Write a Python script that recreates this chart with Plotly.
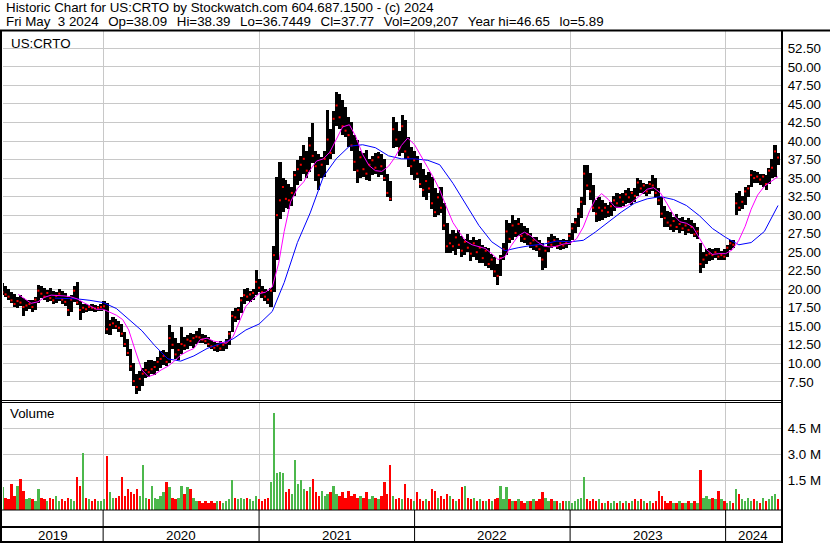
import plotly.graph_objects as go
import pandas as pd

# weekly bars, week ending Friday (May 10 2019 .. May 3 2024)
week_end = pd.date_range("2019-05-10", periods=261, freq="7D")

week_high = [
    20.8, 20.4, 20.0, 19.6, 19.4, 19.0, 19.2, 18.8, 18.5, 18.6,
    18.5, 18.9, 20.6, 20.5, 20.2, 19.9, 20.1, 19.8, 19.6, 20.0,
    19.8, 19.5, 19.0, 19.2, 20.4, 21.0, 18.4, 18.0, 18.0, 17.9,
    18.0, 17.9, 17.8, 18.0, 18.4, 18.1, 15.9, 16.2, 16.0, 15.7,
    15.3, 14.2, 13.3, 11.9, 10.0, 8.6, 8.9, 9.4, 10.2, 10.4,
    10.5, 10.3, 10.9, 11.6, 11.8, 11.5, 15.2, 14.2, 13.4, 12.8,
    14.9, 13.6, 13.8, 14.1, 13.9, 14.3, 14.8, 14.0, 13.8, 13.6,
    13.2, 12.9, 12.8, 13.0, 12.8, 13.3, 14.3, 17.0, 17.4, 17.6,
    19.0, 20.0, 20.2, 19.8, 20.0, 22.6, 21.4, 20.4, 20.0, 19.8,
    20.2, 25.8, 35.2, 37.2, 35.0, 34.8, 34.2, 33.8, 36.0, 37.4,
    38.0, 39.5, 38.6, 40.6, 42.4, 38.6, 38.2, 37.8, 38.6, 44.2,
    41.6, 44.0, 46.65, 46.4, 45.6, 44.6, 43.2, 42.6, 40.8, 40.1,
    38.6, 38.4, 38.8, 37.6, 38.0, 38.4, 38.5, 38.2, 37.6, 35.6,
    34.6, 43.2, 42.6, 41.4, 43.5, 42.8, 40.6, 39.2, 38.6, 38.0,
    37.0, 36.2, 35.4, 35.8, 35.1, 33.6, 33.0, 33.8, 31.6, 28.9,
    27.4, 28.0, 27.6, 28.0, 27.2, 26.8, 27.4, 26.6, 27.1, 26.6,
    26.8, 26.0, 25.7, 25.6, 24.8, 24.4, 23.4, 24.6, 26.3, 29.3,
    29.0, 30.0, 29.4, 29.6, 28.9, 28.6, 28.2, 27.6, 27.1, 27.0,
    26.6, 26.2, 25.8, 27.0, 27.5, 27.2, 26.9, 26.6, 26.8, 26.6,
    27.6, 28.9, 29.6, 31.0, 32.5, 36.8, 36.7, 35.7, 34.0, 32.0,
    32.4, 32.0, 31.6, 31.4, 31.8, 32.6, 33.0, 32.8, 33.0, 33.4,
    33.7, 33.2, 33.6, 35.0, 34.8, 34.4, 34.2, 34.6, 35.4, 35.0,
    33.6, 32.4, 31.2, 30.6, 30.4, 29.8, 30.2, 29.6, 29.8, 29.4,
    29.6, 29.3, 29.0, 28.4, 26.3, 25.0, 25.4, 25.6, 25.4, 25.6,
    25.5, 25.2, 25.4, 26.0, 26.6, 26.6, 33.0, 33.2, 32.6, 33.8,
    34.0, 36.1, 36.0, 35.8, 35.6, 35.6, 35.4, 36.4, 37.6, 39.4,
    38.39,
]

week_low = [
    19.2, 18.9, 18.6, 18.2, 17.6, 17.5, 17.8, 16.4, 17.0, 17.3,
    16.9, 17.2, 18.2, 18.8, 18.5, 18.3, 18.4, 18.0, 18.1, 18.4,
    18.0, 17.8, 16.4, 16.9, 18.3, 17.9, 15.9, 16.8, 16.9, 17.0,
    17.1, 16.9, 17.0, 17.1, 17.2, 14.0, 13.8, 14.6, 14.7, 14.2,
    13.6, 12.2, 11.0, 9.0, 7.0, 5.89, 6.2, 7.0, 8.0, 8.2,
    8.6, 8.4, 8.9, 9.4, 9.8, 9.6, 10.0, 12.0, 10.6, 10.4,
    11.2, 11.8, 12.0, 12.4, 12.1, 12.6, 12.8, 12.7, 12.6, 12.2,
    11.9, 11.6, 11.5, 11.7, 11.6, 12.0, 12.5, 14.2, 15.6, 15.8,
    16.8, 18.0, 18.4, 18.3, 18.6, 19.2, 19.6, 18.8, 18.4, 18.0,
    17.6, 19.6, 24.0, 29.5, 30.4, 31.0, 30.8, 31.2, 32.6, 34.0,
    34.6, 35.6, 35.0, 35.8, 37.0, 34.6, 33.4, 35.0, 35.2, 36.8,
    37.6, 38.2, 42.0, 41.6, 40.8, 40.6, 39.2, 38.6, 36.0, 34.3,
    35.0, 35.2, 34.7, 34.6, 35.4, 35.6, 35.2, 35.4, 34.6, 32.4,
    31.9, 39.0, 39.2, 38.0, 38.4, 37.6, 36.5, 35.4, 34.8, 35.0,
    33.6, 32.4, 32.0, 33.0, 30.8, 29.7, 30.0, 30.3, 28.0, 24.9,
    24.9, 25.2, 24.6, 25.4, 24.4, 24.6, 25.0, 23.8, 24.4, 24.0,
    23.5, 23.6, 23.2, 22.8, 22.6, 21.6, 20.6, 21.8, 24.0, 24.6,
    26.2, 26.7, 27.0, 27.2, 26.4, 26.2, 26.0, 25.6, 25.3, 25.2,
    24.4, 22.6, 22.8, 25.0, 25.6, 25.7, 25.4, 25.3, 25.4, 25.5,
    26.0, 26.6, 27.6, 28.4, 29.6, 31.4, 33.4, 32.0, 30.4, 29.1,
    29.2, 29.4, 29.6, 29.7, 29.9, 30.6, 31.0, 31.1, 31.2, 31.5,
    31.6, 31.4, 31.8, 32.6, 33.0, 32.8, 32.6, 32.8, 33.2, 32.5,
    31.4, 29.6, 28.4, 28.4, 28.0, 27.7, 28.0, 27.6, 27.8, 27.3,
    27.6, 27.4, 27.0, 26.8, 22.2, 22.8, 23.4, 23.8, 24.0, 24.2,
    24.0, 23.9, 24.0, 24.4, 25.3, 25.6, 30.0, 30.6, 30.8, 31.4,
    32.4, 33.8, 34.4, 34.3, 34.0, 33.8, 33.4, 34.2, 35.0, 35.2,
    36.74,
]

week_close = [
    19.6, 19.3, 19.0, 18.5, 18.0, 18.4, 18.2, 17.6, 17.8, 18.0,
    17.6, 18.6, 19.8, 19.4, 19.0, 19.5, 18.8, 18.5, 19.1, 19.4,
    18.6, 18.3, 17.2, 18.6, 19.8, 18.2, 17.2, 17.5, 17.3, 17.6,
    17.5, 17.4, 17.5, 17.6, 17.7, 14.6, 15.2, 15.4, 15.0, 14.8,
    14.0, 12.6, 11.4, 9.6, 7.6, 6.8, 7.9, 8.6, 9.1, 8.8,
    9.2, 9.5, 10.2, 10.6, 11.0, 10.2, 13.4, 12.5, 11.2, 11.8,
    12.6, 12.4, 13.2, 13.0, 13.4, 13.6, 13.5, 13.2, 13.0, 12.6,
    12.3, 12.1, 12.4, 12.0, 12.5, 12.9, 14.0, 16.4, 16.2, 17.2,
    18.5, 19.2, 19.0, 19.3, 19.5, 21.0, 20.2, 19.6, 19.0, 18.6,
    19.8, 24.6, 30.0, 32.0, 33.8, 32.2, 32.0, 33.0, 35.4, 36.2,
    36.8, 37.6, 36.0, 39.4, 38.0, 36.6, 35.4, 36.8, 37.6, 40.2,
    38.4, 43.0, 44.8, 43.2, 42.0, 41.4, 40.8, 39.4, 37.2, 36.0,
    37.8, 36.2, 35.6, 36.8, 37.4, 36.4, 37.8, 36.6, 35.0, 33.0,
    32.2, 41.6, 40.2, 39.0, 42.0, 38.6, 37.8, 36.6, 37.4, 35.6,
    34.2, 33.4, 34.6, 33.6, 31.6, 30.4, 32.4, 31.0, 28.6, 25.8,
    26.2, 25.8, 27.0, 26.0, 25.2, 26.4, 25.6, 24.8, 26.2, 25.0,
    25.6, 24.2, 25.2, 23.4, 24.0, 22.4, 21.8, 24.2, 25.4, 27.8,
    26.8, 28.6, 27.6, 28.8, 27.2, 26.8, 27.4, 26.2, 26.6, 25.8,
    25.4, 24.0, 25.2, 26.4, 26.0, 26.6, 25.8, 26.2, 25.9, 26.3,
    27.2, 28.2, 29.0, 30.2, 31.8, 35.6, 34.0, 33.2, 31.0, 30.2,
    31.0, 30.6, 31.0, 30.4, 31.2, 32.0, 31.6, 32.4, 31.8, 32.8,
    32.4, 33.0, 32.6, 34.4, 33.6, 34.0, 33.2, 34.2, 34.0, 33.0,
    32.0, 30.2, 29.6, 29.0, 28.6, 29.2, 28.4, 28.8, 28.2, 28.6,
    28.0, 28.4, 27.4, 27.8, 23.4, 24.0, 24.6, 24.8, 24.6, 25.0,
    24.4, 24.6, 24.4, 25.6, 26.2, 26.0, 31.6, 31.0, 31.8, 33.2,
    33.6, 35.4, 35.0, 35.2, 34.8, 35.2, 34.2, 36.0, 36.4, 38.6,
    37.77,
]

# volume in millions of shares
week_volume = [
    1.1, 0.5, 0.4, 1.3, 0.6, 1.2, 1.6, 0.9, 0.4, 0.5,
    0.4, 0.3, 1.0, 0.5, 0.4, 0.3, 0.5, 0.4, 0.6, 0.3,
    0.4, 0.3, 0.5, 0.4, 0.3, 1.7, 1.2, 3.1, 0.5, 0.4,
    0.3, 0.4, 0.3, 0.3, 0.4, 2.9, 0.8, 0.5, 0.5, 0.6,
    1.7, 0.6, 1.0, 0.8, 0.7, 1.0, 0.6, 2.4, 0.5, 0.4,
    1.2, 0.5, 0.4, 0.6, 0.8, 1.4, 1.1, 0.5, 0.4, 0.5,
    1.2, 0.7, 1.1, 1.0, 0.5, 0.3, 0.3, 0.2, 0.3, 0.2,
    0.3, 0.2, 0.3, 0.3, 0.2, 0.3, 0.4, 1.5, 0.5, 0.4,
    0.5, 0.4, 0.5, 0.4, 0.3, 0.6, 0.4, 0.3, 0.4, 0.5,
    1.4, 5.4, 1.9, 2.0, 1.9, 0.8, 1.0, 0.7, 2.7, 1.3,
    1.5, 1.0, 0.9, 1.1, 1.6, 0.8, 0.6, 0.9, 0.6, 0.7,
    0.8, 1.2, 0.7, 0.6, 0.8, 0.5, 0.9, 0.6, 0.7, 0.5,
    0.6, 0.5, 0.8, 0.4, 0.6, 0.5, 0.4, 0.6, 1.4, 0.7,
    2.4, 0.6, 0.4, 0.5, 0.4, 1.3, 0.5, 0.4, 0.3, 0.8,
    0.4, 0.3, 0.4, 0.3, 1.0, 0.9, 0.5, 0.6, 0.4, 0.7,
    0.6, 0.4, 0.3, 0.4, 1.1, 1.2, 0.5, 0.4, 0.5, 0.3,
    0.4, 0.3, 0.3, 0.4, 0.3, 0.4, 0.5, 1.2, 0.4, 1.1,
    0.4, 0.3, 0.3, 0.4, 0.3, 0.2, 0.3, 0.3, 0.4, 0.3,
    0.4, 0.8, 0.5, 0.3, 0.4, 0.3, 0.3, 0.2, 0.3, 0.3,
    0.3, 0.2, 0.3, 0.4, 0.5, 1.7, 0.4, 0.3, 0.4, 0.3,
    0.4, 0.2, 0.2, 0.3, 0.2, 0.3, 0.2, 0.3, 0.2, 0.3,
    0.2, 0.3, 0.4, 0.3, 0.4, 0.3, 0.2, 0.3, 0.2, 0.3,
    0.9, 0.6, 0.3, 0.2, 0.3, 0.2, 0.2, 0.3, 0.2, 0.2,
    0.3, 0.2, 0.3, 0.2, 2.1, 0.5, 0.6, 0.4, 0.5, 0.4,
    0.9, 0.4, 0.3, 0.2, 0.3, 0.2, 1.0, 0.7, 0.4, 0.3,
    0.5, 0.3, 0.4, 0.3, 0.2, 0.5, 0.3, 0.4, 0.6, 0.7,
    0.4,
]

# magenta (short) moving average
ma_fast_dates = [
    "2019-06-16", "2019-07-01", "2019-07-16", "2019-08-01", "2019-08-16", "2019-09-01",
    "2019-09-16", "2019-10-01", "2019-10-16", "2019-11-01", "2019-11-16", "2019-12-01",
    "2019-12-16", "2020-01-01", "2020-01-16", "2020-02-01", "2020-02-16", "2020-03-01",
    "2020-03-16", "2020-04-01", "2020-04-16", "2020-05-01", "2020-05-16", "2020-06-01",
    "2020-06-16", "2020-07-01", "2020-07-16", "2020-08-01", "2020-08-16", "2020-09-01",
    "2020-09-16", "2020-10-01", "2020-10-16", "2020-11-01", "2020-11-16", "2020-12-01",
    "2020-12-16", "2021-01-01", "2021-01-16", "2021-02-01", "2021-02-16", "2021-03-01",
    "2021-03-16", "2021-04-01", "2021-04-16", "2021-05-01", "2021-05-16", "2021-06-01",
    "2021-06-16", "2021-07-01", "2021-07-16", "2021-08-01", "2021-08-16", "2021-09-01",
    "2021-09-16", "2021-10-01", "2021-10-16", "2021-11-01", "2021-11-16", "2021-12-01",
    "2021-12-16", "2022-01-01", "2022-01-16", "2022-02-01", "2022-02-16", "2022-03-01",
    "2022-03-16", "2022-04-01", "2022-04-16", "2022-05-01", "2022-05-16", "2022-06-01",
    "2022-06-16", "2022-07-01", "2022-07-16", "2022-08-01", "2022-08-16", "2022-09-01",
    "2022-09-16", "2022-10-01", "2022-10-16", "2022-11-01", "2022-11-16", "2022-12-01",
    "2022-12-16", "2023-01-01", "2023-01-16", "2023-02-01", "2023-02-16", "2023-03-01",
    "2023-03-16", "2023-04-01", "2023-04-16", "2023-05-01", "2023-05-16", "2023-06-01",
    "2023-06-16", "2023-07-01", "2023-07-16", "2023-08-01", "2023-08-16", "2023-09-01",
    "2023-09-16", "2023-10-01", "2023-10-16", "2023-11-01", "2023-11-16", "2023-12-01",
    "2023-12-16", "2024-01-01", "2024-01-16", "2024-02-01", "2024-02-16", "2024-03-01",
    "2024-03-16", "2024-04-01", "2024-04-16", "2024-05-03",
]
ma_fast = [
    19.3, 18.7, 18.1, 18.3, 18.9, 19.2,
    19.2, 19.1, 19.0, 18.7, 18.2, 17.7,
    17.3, 17.3, 16.9, 16.5, 15.9, 14.5,
    11.8, 9.1, 8.2, 8.5, 9.1, 9.6,
    10.3, 11.1, 11.6, 12.0, 13.2, 13.4,
    13.0, 12.8, 12.7, 13.6, 15.6, 17.7,
    18.6, 19.4, 19.6, 20.3, 23.5, 27.8,
    31.8, 33.6, 34.5, 36.1, 37.3, 37.6,
    38.5, 40.2, 41.9, 42.2, 40.6, 38.2,
    36.7, 36.0, 35.9, 36.6, 37.8, 39.4,
    40.4, 39.5, 37.9, 36.4, 34.9, 33.4,
    31.2, 29.0, 27.7, 26.5, 26.0, 25.7,
    25.5, 24.8, 24.0, 24.4, 25.9, 27.2,
    27.7, 27.2, 26.4, 25.8, 25.7, 25.8,
    26.1, 26.2, 26.8, 28.4, 30.6, 32.1,
    32.9, 32.1, 31.1, 31.0, 31.3, 32.0,
    32.8, 33.5, 33.7, 33.0, 31.6, 30.0,
    29.1, 28.9, 28.4, 26.8, 25.4, 24.7,
    24.8, 24.8, 25.3, 26.6, 28.5, 30.8,
    32.7, 33.9, 34.5, 35.2,
]

# blue (long) moving average
ma_slow_dates = [
    "2019-09-10", "2019-10-01", "2019-11-01", "2019-12-01", "2020-01-01", "2020-02-01",
    "2020-03-01", "2020-04-01", "2020-05-01", "2020-06-01", "2020-07-01", "2020-08-01",
    "2020-09-01", "2020-10-01", "2020-11-01", "2020-12-01", "2021-01-01", "2021-02-01",
    "2021-03-01", "2021-04-01", "2021-05-01", "2021-06-01", "2021-07-01", "2021-08-01",
    "2021-09-01", "2021-10-01", "2021-11-01", "2021-12-01", "2022-01-01", "2022-02-01",
    "2022-03-01", "2022-04-01", "2022-05-01", "2022-06-01", "2022-07-01", "2022-08-01",
    "2022-09-01", "2022-10-01", "2022-11-01", "2022-12-01", "2023-01-01", "2023-02-01",
    "2023-03-01", "2023-04-01", "2023-05-01", "2023-06-01", "2023-07-01", "2023-08-01",
    "2023-09-01", "2023-10-01", "2023-11-01", "2023-12-01", "2024-01-01", "2024-02-01",
    "2024-03-01", "2024-04-01", "2024-05-03",
]
ma_slow = [
    18.8, 18.8, 18.7, 18.5, 18.2, 17.4,
    16.0, 14.4, 12.4, 10.6, 10.3, 11.0,
    12.0, 12.6, 13.3, 14.5, 15.3, 17.0,
    20.9, 26.3, 30.3, 35.2, 37.6, 39.3,
    39.5, 39.1, 38.0, 37.6, 37.6, 37.4,
    36.8, 34.3, 31.5, 28.6, 26.4, 25.2,
    25.6, 25.9, 26.1, 26.5, 26.4, 26.6,
    27.7, 29.1, 30.4, 31.6, 32.2, 32.5,
    32.1, 31.3, 29.9, 28.2, 27.0, 26.0,
    26.3, 27.8, 31.3,
]

price_ticks = [7.5, 10, 12.5, 15, 17.5, 20, 22.5, 25, 27.5, 30, 32.5, 35,
               37.5, 40, 42.5, 45, 47.5, 50, 52.5]
volume_ticks = [1.5, 3.0, 4.5]
volume_tick_text = ["1.5 M", "3.0 M", "4.5 M"]
year_starts = ["2020-01-01", "2021-01-01", "2022-01-01", "2023-01-01", "2024-01-01"]
year_labels = ["2019", "2020", "2021", "2022", "2023", "2024"]

x_start, x_end = "2019-05-11", "2024-05-10"

header_1 = "Historic Chart for US:CRTO by Stockwatch.com 604.687.1500 - (c) 2024"
header_2_fields = ["Fri May\u00a0 3 2024", "Op=38.09", "Hi=38.39", "Lo=36.7449",
                   "Cl=37.77", "Vol=209,207", "Year hi=46.65", "lo=5.89"]
header_2 = "\u00a0\u2006 ".join(header_2_fields)

# page geometry in pixels
W, H = 830, 543
L, R, T, B = 3, 49, 31, 33
plot_w = W - L - R
plot_h = H - T - B


def px(x):
    return (x - L) / plot_w


def py(y):
    return (H - B - y) / plot_h


FONT = "Liberation Sans, Arial, sans-serif"
FSIZE = 13.33
GREEN = "#4cb84c"
RED = "#ff0000"
GRID = "#c8c8c8"

vol_floor = -0.213
vol_top = 6.017

vol_colors = [GREEN]
for k in range(1, len(week_close)):
    if week_close[k] > week_close[k - 1]:
        vol_colors.append(GREEN)
    elif week_close[k] < week_close[k - 1]:
        vol_colors.append(RED)
    else:
        vol_colors.append("#a0a0a0")

day_ms = 24 * 3600 * 1000
bar_width = 7.4 * day_ms
vol_width = 5.5 * day_ms

fig = go.Figure()

# price range bars
fig.add_trace(go.Bar(
    x=week_end, base=week_low,
    y=[h - l for h, l in zip(week_high, week_low)],
    width=bar_width, marker=dict(color="black", line=dict(width=0)),
    xaxis="x", yaxis="y", hoverinfo="skip"
))
# close ticks
fig.add_trace(go.Scatter(
    x=week_end, y=week_close, mode="markers",
    marker=dict(color=RED, size=2, symbol="square", line=dict(width=0)),
    xaxis="x", yaxis="y", hoverinfo="skip"
))
fig.add_trace(go.Scatter(
    x=pd.to_datetime(ma_slow_dates), y=ma_slow, mode="lines",
    line=dict(color="#0000ff", width=1), xaxis="x", yaxis="y", hoverinfo="skip"
))
fig.add_trace(go.Scatter(
    x=pd.to_datetime(ma_fast_dates), y=ma_fast, mode="lines",
    line=dict(color="#ff00ff", width=1), xaxis="x", yaxis="y", hoverinfo="skip"
))
# volume
fig.add_trace(go.Bar(
    x=week_end, base=vol_floor, y=[v - vol_floor for v in week_volume],
    width=vol_width, marker=dict(color=vol_colors, line=dict(width=0)),
    xaxis="x2", yaxis="y2", hoverinfo="skip"
))

xaxis_common = dict(
    type="date", range=[x_start, x_end], tickvals=year_starts,
    showticklabels=False, showgrid=True, gridcolor=GRID, gridwidth=1,
    showline=False, zeroline=False, ticks="",
)

shapes = []
# header rule and frame
shapes.append(dict(type="line", xref="paper", yref="paper", x0=px(0), x1=px(W),
                   y0=py(30.5), y1=py(30.5), line=dict(color="black", width=2)))
shapes.append(dict(type="line", xref="paper", yref="paper", x0=px(1), x1=px(1),
                   y0=py(H), y1=py(31), line=dict(color="black", width=2)))
shapes.append(dict(type="line", xref="paper", yref="paper", x0=px(782), x1=px(782),
                   y0=py(H), y1=py(31), line=dict(color="black", width=2)))
# separator between price and volume panes
for yy in (400.5, 402.5):
    shapes.append(dict(type="line", xref="paper", yref="paper", x0=px(0), x1=px(782),
                       y0=py(yy), y1=py(yy), line=dict(color="black", width=1)))
# bottom strips
shapes.append(dict(type="line", xref="paper", yref="paper", x0=px(0), x1=px(782),
                   y0=py(510), y1=py(510), line=dict(color="black", width=1)))
shapes.append(dict(type="line", xref="paper", yref="paper", x0=px(0), x1=px(782),
                   y0=py(527), y1=py(527), line=dict(color="black", width=2)))
shapes.append(dict(type="line", xref="paper", yref="paper", x0=px(0), x1=px(782),
                   y0=py(542), y1=py(542), line=dict(color="black", width=2)))
for ys in year_starts:
    shapes.append(dict(type="line", xref="x", yref="paper", x0=ys, x1=ys,
                       y0=py(543), y1=py(510), line=dict(color="black", width=1)))

annotations = [
    dict(text=header_1, x=px(4), y=py(8)),
    dict(text=header_2, x=px(4), y=py(22)),
    dict(text="US:CRTO", x=px(9), y=py(43)),
    dict(text="Volume", x=px(8), y=py(413)),
]
for a in annotations:
    a.update(xref="paper", yref="paper", xanchor="left", yanchor="middle",
             showarrow=False, font=dict(family=FONT, size=FSIZE, color="black"))

# year labels centred in each year segment
bounds = [pd.Timestamp(x_start)] + [pd.Timestamp(d) for d in year_starts] + [pd.Timestamp(x_end)]
for k, lab in enumerate(year_labels):
    mid = bounds[k] + (bounds[k + 1] - bounds[k]) / 2
    annotations.append(dict(text=lab, x=mid, y=py(535), xref="x", yref="paper",
                            xanchor="center", yanchor="middle", showarrow=False,
                            font=dict(family=FONT, size=FSIZE, color="black")))

fig.update_layout(
    width=W, height=H,
    margin=dict(l=L, r=R, t=T, b=B, pad=0),
    paper_bgcolor="white", plot_bgcolor="white",
    showlegend=False, bargap=0,
    font=dict(family=FONT, size=FSIZE, color="black"),
    xaxis=dict(domain=[0, 1], anchor="y", **xaxis_common),
    xaxis2=dict(domain=[0, 1], anchor="y2", matches="x", **xaxis_common),
    yaxis=dict(
        domain=[py(400), 1], range=[5.05, 54.85], side="right", anchor="x",
        tickvals=price_ticks, ticktext=[f"{v:.2f}" for v in price_ticks],
        showgrid=True, gridcolor=GRID, gridwidth=1, zeroline=False, showline=False,
        ticks="outside", ticklen=3, tickcolor="rgba(0,0,0,0)",
        tickfont=dict(family=FONT, size=FSIZE, color="black"),
    ),
    yaxis2=dict(
        domain=[0, py(402)], range=[vol_floor, vol_top], side="right", anchor="x2",
        tickvals=volume_ticks, ticktext=volume_tick_text,
        showgrid=True, gridcolor=GRID, gridwidth=1, zeroline=False, showline=False,
        ticks="outside", ticklen=3, tickcolor="rgba(0,0,0,0)",
        tickfont=dict(family=FONT, size=FSIZE, color="black"),
    ),
    shapes=shapes,
    annotations=annotations,
)

fig.write_html("out.html", config={"displayModeBar": False},
               post_script="document.body.style.margin='0';document.body.style.overflow='hidden';")
